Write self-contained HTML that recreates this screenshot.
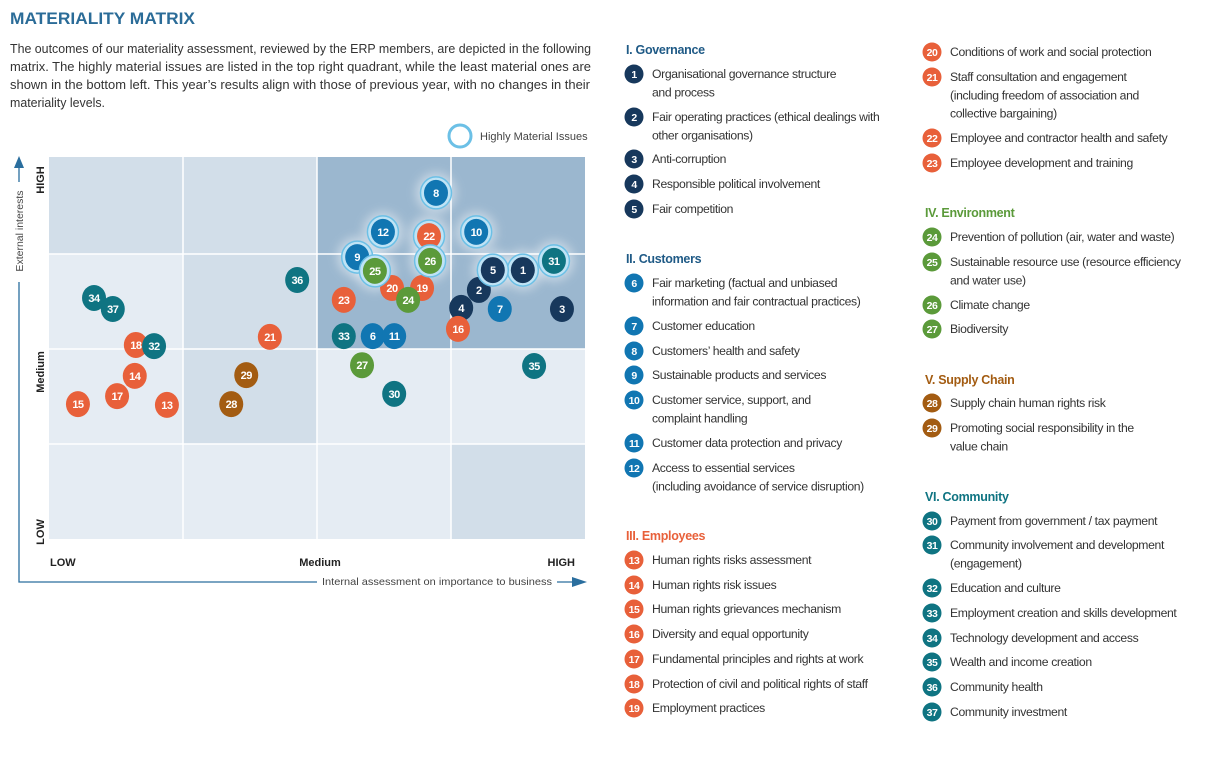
<!DOCTYPE html>
<html><head><meta charset="utf-8"><style>
body{margin:0;background:#fff;}
svg{display:block;font-family:"Liberation Sans",sans-serif;}
</style></head><body>
<svg id="chart" width="1222" height="759" viewBox="0 0 1222 759" xmlns="http://www.w3.org/2000/svg">
<defs>
<filter id="glow" x="-1" y="-1" width="3" height="3"><feGaussianBlur stdDeviation="5"/></filter>
</defs>
<text x="10" y="24" font-size="17" font-weight="bold" fill="#2b6c98" textLength="185" lengthAdjust="spacingAndGlyphs">MATERIALITY MATRIX</text>
<g font-size="13" fill="#333">
<text x="10" y="53" textLength="581" lengthAdjust="spacingAndGlyphs">The outcomes of our materiality assessment, reviewed by the ERP members, are depicted in the following</text>
<text x="10" y="71" textLength="581" lengthAdjust="spacingAndGlyphs">matrix. The highly material issues are listed in the top right quadrant, while the least material ones are</text>
<text x="10" y="89" textLength="580" lengthAdjust="spacingAndGlyphs">shown in the bottom left. This year’s results align with those of previous year, with no changes in their</text>
<text x="10" y="107" textLength="95" lengthAdjust="spacingAndGlyphs">materiality levels.</text>
</g>
<g id="plot"></g>
<g id="legend"></g>
</svg>
<script>
const issueIds = [1,2,3,4,5,6,7,8,9,10,11,12,13,14,15,16,17,18,19,20,21,22,23,24,25,26,27,28,29,30,31,32,33,34,35,36,37];
const internalScores = [88.4,80.2,95.7,76.9,82.8,60.4,84.1,72.2,57.5,79.7,64.4,62.3,22.0,16.0,5.4,76.3,12.7,16.2,69.6,64.0,41.2,70.9,55.0,67.0,60.8,71.1,58.4,34.0,36.8,64.4,94.2,19.6,55.0,8.4,90.5,46.3,11.9];
const externalScores = [70.4,65.2,60.2,60.5,70.4,53.1,60.2,90.6,73.8,80.4,53.1,80.4,35.1,42.7,35.3,55.0,37.4,50.8,65.7,65.7,52.9,79.3,62.6,62.6,70.2,72.8,45.5,35.3,42.9,38.0,72.8,50.5,53.1,63.1,45.3,67.8,60.2];
const highlyMaterial = [8,12,22,10,9,25,26,5,1,31];
const categoryNames = ["I. Governance","II. Customers","III. Employees","IV. Environment","V. Supply Chain","VI. Community"];
const categoryColors = ["#17385c","#1176b2","#e8603a","#5b9a3a","#a35c12","#0f7482"];
function categoryOf(id){return id<=5?0:id<=12?1:id<=23?2:id<=27?3:id<=29?4:5;}
const X0=49,X1=585,Y0=539,Y1=157;
function xs(v){return X0+(X1-X0)*v/100;}
function ys(v){return Y0-(Y0-Y1)*v/100;}
const NS="http://www.w3.org/2000/svg";
function mk(tag,attrs,parent){const e=document.createElementNS(NS,tag);for(const k in attrs)e.setAttribute(k,attrs[k]);parent.appendChild(e);return e;}
const plot=document.getElementById('plot');
const colB=[49,183,317,451,585], rowB=[157,254,349,444,539];
const shade=[["m","m","d","d"],["l","m","d","d"],["l","m","l","l"],["l","l","l","m"]];
const fills={l:"#e5ecf3",m:"#d2dee9",d:"#9bb7cf"};
for(let r=0;r<4;r++)for(let c=0;c<4;c++){
 const cell=mk('rect',{x:colB[c],y:rowB[r],width:colB[c+1]-colB[c],height:rowB[r+1]-rowB[r],fill:fills[shade[r][c]]},plot);
 
 
}
for(let i=1;i<4;i++){
 mk('line',{x1:colB[i],y1:157,x2:colB[i],y2:539,stroke:"#fff","stroke-width":1.5},plot);
 mk('line',{x1:49,y1:rowB[i],x2:585,y2:rowB[i],stroke:"#fff","stroke-width":1.5},plot);
}
const ax=mk('g',{},plot);


mk('path',{d:"M19 168 V582 H574",fill:"none",stroke:"#2a6e9e","stroke-width":1.3},ax);
mk('path',{d:"M14 168 L19 156 L24 168 Z",fill:"#2a6e9e"},ax);
mk('path',{d:"M572 577 L587 582 L572 587 Z",fill:"#2a6e9e"},ax);
mk('rect',{x:12,y:182,width:14,height:100,fill:"#fff"},ax);
mk('rect',{x:317,y:575,width:240,height:14,fill:"#fff"},ax);
const yt=mk('text',{x:0,y:0,transform:"translate(23,231) rotate(-90)","text-anchor":"middle","font-size":"10.5",fill:"#444"},ax);
yt.textContent="External interests";


const xt=mk('text',{x:437,y:585,"text-anchor":"middle","font-size":"10.5",fill:"#444",textLength:"230",lengthAdjust:"spacingAndGlyphs"},ax);
xt.textContent="Internal assessment on importance to business";


const yTicks=[["HIGH",180],["Medium",372],["LOW",532]];
yTicks.forEach(t=>{const e=mk('text',{transform:`translate(44,${t[1]}) rotate(-90)`,"text-anchor":"middle","font-size":"11","font-weight":"bold",fill:"#222"},ax);e.textContent=t[0];
 
 });
const xTicks=[["LOW",50,"start"],["Medium",320,"middle"],["HIGH",575,"end"]];
xTicks.forEach(t=>{const e=mk('text',{x:t[1],y:566,"text-anchor":t[2],"font-size":"11","font-weight":"bold",fill:"#222"},ax);e.textContent=t[0];
 
 });
const key=mk('g',{},plot);


mk('circle',{cx:460,cy:136,r:11,fill:"#fff",stroke:"#6cc0e6","stroke-width":3},key);
const kt=mk('text',{x:480,y:140,"font-size":"11",fill:"#444"},key);kt.textContent="Highly Material Issues";
issueIds.forEach((id,i)=>{if(highlyMaterial.includes(id)){mk('circle',{cx:xs(internalScores[i]),cy:ys(externalScores[i]),r:20,fill:"#ffffff",opacity:0.45,filter:"url(#glow)"},plot);}});
issueIds.forEach((id,i)=>{
 const cx=xs(internalScores[i]),cy=ys(externalScores[i]);
 const g=mk('g',{},plot);
 
 
 if(highlyMaterial.includes(id)) mk('ellipse',{cx:cx,cy:cy,rx:15.5,ry:16,fill:"#bfe3f5",stroke:"#6cc0e6","stroke-width":1.5},g);
 mk('ellipse',{cx:cx,cy:cy,rx:12,ry:13,fill:categoryColors[categoryOf(id)]},g);
 const t=mk('text',{x:cx,y:cy+4,"text-anchor":"middle","font-size":"11","font-weight":"bold",fill:"#fff","letter-spacing":"-0.5"},g);t.textContent=id;
});
const legend=document.getElementById('legend');
const headers=[[0,626,54],[1,626,263],[2,626,540],[3,925,217],[4,925,384],[5,925,501]];
headers.forEach(h=>{const e=mk('text',{x:h[1],y:h[2],"font-size":"12.5","font-weight":"bold",fill:h[0]==0||h[0]==1?"#1f5a86":categoryColors[h[0]],"letter-spacing":"-0.3"},legend);e.textContent=categoryNames[h[0]];
 
 });
const items=[
[1,74,["Organisational governance structure","and process"]],
[2,117,["Fair operating practices (ethical dealings with","other organisations)"]],
[3,159,["Anti-corruption"]],[4,184,["Responsible political involvement"]],[5,209,["Fair competition"]],
[6,283,["Fair marketing (factual and unbiased","information and fair contractual practices)"]],
[7,326,["Customer education"]],[8,351,["Customers’ health and safety"]],[9,375,["Sustainable products and services"]],
[10,400,["Customer service, support, and","complaint handling"]],[11,443,["Customer data protection and privacy"]],
[12,468,["Access to essential services","(including avoidance of service disruption)"]],
[13,560,["Human rights risks assessment"]],[14,585,["Human rights risk issues"]],[15,609,["Human rights grievances mechanism"]],
[16,634,["Diversity and equal opportunity"]],[17,659,["Fundamental principles and rights at work"]],
[18,684,["Protection of civil and political rights of staff"]],[19,708,["Employment practices"]],
[20,52,["Conditions of work and social protection"]],
[21,77,["Staff consultation and engagement","(including freedom of association and","collective bargaining)"]],
[22,138,["Employee and contractor health and safety"]],[23,163,["Employee development and training"]],
[24,237,["Prevention of pollution (air, water and waste)"]],
[25,262,["Sustainable resource use (resource efficiency","and water use)"]],[26,305,["Climate change"]],[27,329,["Biodiversity"]],
[28,403,["Supply chain human rights risk"]],[29,428,["Promoting social responsibility in the","value chain"]],
[30,521,["Payment from government / tax payment"]],[31,545,["Community involvement and development","(engagement)"]],
[32,588,["Education and culture"]],[33,613,["Employment creation and skills development"]],
[34,638,["Technology development and access"]],[35,662,["Wealth and income creation"]],
[36,687,["Community health"]],[37,712,["Community investment"]]];
items.forEach(it=>{
 const id=it[0],y=it[1],col2=id>=20;
 const cx=col2?932:634,tx=col2?950:652;
 const g=mk('g',{},legend);
 
 
 mk('circle',{cx:cx,cy:y,r:9.5,fill:categoryColors[categoryOf(id)]},g);
 const n=mk('text',{x:cx,y:y+4,"text-anchor":"middle","font-size":"10.5","font-weight":"bold",fill:"#fff","letter-spacing":"-0.5"},g);n.textContent=id;
 it[2].forEach((line,k)=>{const t=mk('text',{x:tx,y:y+4+k*18.3,"font-size":"12.2",fill:"#333","letter-spacing":"-0.35"},g);t.textContent=line;});
});
</script>
</body></html>
